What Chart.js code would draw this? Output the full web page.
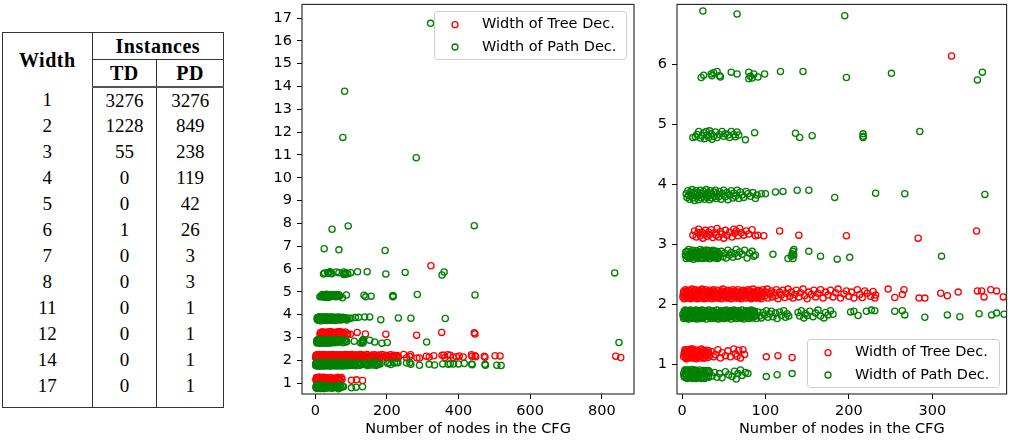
<!DOCTYPE html>
<html>
<head>
<meta charset="utf-8">
<script src="https://cdn.jsdelivr.net/npm/chart.js@4.4.0/dist/chart.umd.min.js"></script>
<style>
  html, body { margin: 0; padding: 0; background: #fff; }
  body { width: 1011px; height: 443px; position: relative; overflow: hidden; }
  #tbl { position: absolute; left: 2px; top: 32px; width: 222px; border-collapse: collapse;
         font-family: 'Liberation Serif', serif; color: #000; border: 1px solid #333; }
  #tbl th, #tbl td { padding: 0; text-align: center; }
  #tbl th { font-weight: bold; font-size: 20px; letter-spacing: 0.5px; height: 26px; }
  #tbl td { font-size: 19px; height: 26px; }
  #tbl .sep { border-right: 1px solid #333; }
  #tbl .under { border-bottom: 1px solid #333; }
  #tbl thead tr:last-child th { border-bottom: 2px solid #555; }
  #tbl tbody tr:first-child td { height: 25px; }
  #tbl tbody tr:last-child td { height: 34px; vertical-align: top; }
  #tbl tbody tr:last-child td span { display: block; line-height: 26px; }
  #c1 { position: absolute; left: 255px; top: 0; }
  #c2 { position: absolute; left: 640px; top: 0; }
</style>
</head>
<body>
<table id="tbl">
  <colgroup><col style="width:90px"><col style="width:65px"><col style="width:67px"></colgroup>
  <thead>
    <tr><th rowspan="2" class="sep">Width</th><th colspan="2" class="under">Instances</th></tr>
    <tr><th class="sep">TD</th><th>PD</th></tr>
  </thead>
  <tbody></tbody>
</table>
<canvas id="c1" width="385" height="443"></canvas>
<canvas id="c2" width="371" height="443"></canvas>
<script>
// table values
const widths = [1, 2, 3, 4, 5, 6, 7, 8, 11, 12, 14, 17];
const tdCount = [3276, 1228, 55, 0, 0, 1, 0, 0, 0, 0, 0, 0];
const pdCount = [3276, 849, 238, 119, 42, 26, 3, 3, 1, 1, 1, 1];

// scatter points [nodes, jittered width]
const tdW1 = [[2,1.12],[3,1.2],[4,1.15],[5,1.23],[5,1.09],[6,1.18],[7,1.13],[8,1.24],[8,1.1],[9,1.19],[10,1.14],[11,1.22],[12,1.1],[12,1.17],[13,1.25],[14,1.12],[15,1.2],[16,1.15],[17,1.09],[17,1.23],[18,1.18],[19,1.12],[20,1.21],[21,1.16],[22,1.1],[22,1.24],[23,1.19],[24,1.13],[25,1.22],[26,1.16],[27,1.1],[28,1.2],[29,1.14],[30,1.23],[31,1.11],[32,1.18],[33,1.14],
  [2.5,1.17],[3.5,1.24],[4.5,1.11],[6.5,1.21],[7.5,1.16],[9.5,1.11],[10.5,1.25],[13.5,1.15],[15.5,1.1],[18.5,1.22],[20.5,1.13],[23.5,1.25],[25.5,1.1],[27.5,1.2],[29.5,1.17],[31.5,1.22],
  [35,1.21],[38,1.12],[40,1.16],[43,1.24],[46,1.1],[48,1.19],[52,1.14],[55,1.22],[58,1.12],[62,1.25],[64,1.17],[66,1.13],[68,1.23],[70,1.1],[73,1.24],[75,1.16],[101,1.12],[115,1.14],[132,1.11]];
const tdW2 = [[1,2.12],[2,2.21],[2.5,2.09],[3,2.18],[4,2.24],[4.5,2.15],[5,2.11],[6,2.2],[6.5,2.1],[7,2.17],[8,2.23],[8.5,2.14],[9,2.12],[10,2.22],[10.5,2.09],[11,2.19],[12,2.25],[12.5,2.15],[13,2.11],[14,2.21],[14.5,2.1],[15,2.18],[16,2.24],[16.5,2.14],[17,2.12],[18,2.2],[18.5,2.09],[19,2.17],[20,2.23],[20.5,2.15],[21,2.11],[22,2.21],[22.5,2.1],[23,2.18],[24,2.25],[24.5,2.14],[25,2.12],[26,2.22],[26.5,2.09],[27,2.19],[28,2.24],[28.5,2.15],[29,2.11],[30,2.2],[31,2.1],[32,2.17],[33,2.23],[33.5,2.14],[34,2.12],[35,2.21],[36,2.09],[37,2.18],[38,2.24],[38.5,2.15],[39,2.11],[40,2.2],[41,2.1],[42,2.17],[43,2.23],[44,2.14],[45,2.12],[46,2.21],[47,2.09],[48,2.18],[49,2.25],[50,2.15],[51,2.11],[52,2.2],[53,2.1],[54,2.17],[55,2.23],[56,2.14],[57,2.12],[58,2.22],[59,2.09],[60,2.19],[61,2.24],[62,2.15],[63,2.11],[64,2.21],[65,2.1],[66,2.18],[67,2.24],[68,2.14],[69,2.12],[70,2.2],[71,2.09],[72,2.17],[73,2.23],[74,2.15],[75,2.11],[76,2.21],[77,2.1],[78,2.18],[79,2.24],[80,2.14],[81,2.12],[82,2.22],[83,2.09],[84,2.19],[85,2.25],[86,2.15],[87,2.11],[88,2.2],[89,2.1],[90,2.17],[91,2.23],[92,2.14],[93,2.12],[94,2.21],[95,2.09],[96,2.18],[97,2.24]];
const tdW2b = [[1.5,2.16],[3.5,2.13],[5.5,2.22],[7.5,2.19],[9.5,2.1],[11.5,2.16],[13.5,2.13],[15.5,2.22],[17.5,2.19],[19.5,2.1],[21.5,2.16],[23.5,2.13],[25.5,2.22],[27.5,2.19],[29.5,2.1],[31.5,2.16],[33.5,2.2],[35.5,2.13],[37.5,2.22],[39.5,2.16],[41.5,2.13],[43.5,2.1],[45.5,2.19],[47.5,2.22],[49.5,2.13],[51.5,2.16],[53.5,2.22],[55.5,2.1],[57.5,2.19],[59.5,2.13],[61.5,2.16],[63.5,2.22],[65.5,2.19],[67.5,2.1],[69.5,2.16],[71.5,2.22],[73.5,2.13],[75.5,2.19],[77.5,2.16],[79.5,2.22],[81.5,2.1],[83.5,2.13],[85.5,2.19],[87.5,2.16],[89.5,2.22],[91.5,2.1],[93.5,2.16],[95.5,2.13]];
const tdW2Tail = [[99,2.13],[100,2.2],[102,2.25],[103,2.1],[105,2.17],[107,2.22],[108,2.12],[110,2.19],[112,2.14],[113,2.24],[115,2.09],[117,2.2],[119,2.15],[121,2.23],[123,2.11],[125,2.18],[127,2.25],[129,2.13],[131,2.2],[133,2.1],[135,2.16],[137,2.23],[140,2.12],[142,2.19],[145,2.25],[147,2.14],[150,2.09],[152,2.2],[155,2.16],[158,2.23],[160,2.12],[163,2.18],[166,2.24],[169,2.1],[172,2.2],[175,2.15],[178,2.23],[181,2.12],[184,2.19],[187,2.25],[190,2.1],[194,2.17],[197,2.22],[200,2.13],[203,2.2],[206,2.1],[210,2.24],[213,2.16],[216,2.11],[219,2.22],[222,2.18],[226,2.13],[229,2.21],[231,2.1],[232,2.15],
  [247,2.25],[255,2.11],[264,2.16],[266,2.24],[284,2.1],[291,2.1],[310,2.18],[318,2.14],[331,2.2],[354,2.22],[359,2.22],[362,2.12],[370,2.24],[377,2.22],[385,2.12],[394,2.15],[402,2.19],[413,2.14],[436,2.24],[438,2.18],[446,2.2],[448,2.15],[472,2.18],[474,2.13],[502,2.2],[516,2.19],[839,2.18],[853,2.12]];
const tdW3 = [[13,3.15],[15,3.22],[17,3.12],[19,3.19],[20,3.25],[22,3.14],[24,3.2],[25,3.1],[27,3.17],[28,3.23],[30,3.13],[32,3.2],[33,3.16],[35,3.24],[37,3.11],[39,3.19],[41,3.15],[42,3.26],[44,3.12],[46,3.21],[48,3.17],[50,3.1],[52,3.23],[54,3.15],[57,3.2],[60,3.12],[62,3.25],[63,3.18],[65,3.22],[67,3.14],[69,3.26],[71,3.19],[74,3.15],[77,3.22],[80,3.17],[84,3.24],[88,3.14],[91,3.15],[98,3.14],[117,3.22],[140,3.15],[197,3.14],[283,3.1],[353,3.22],[444,3.2],[446,3.15]];
const tdW6 = [[323,6.14]];

const pdW1 = [[2,0.84],[3,0.78],[4,0.88],[5,0.8],[5,0.9],[6,0.76],[7,0.85],[8,0.79],[8,0.9],[9,0.83],[10,0.77],[11,0.87],[12,0.81],[12,0.91],[13,0.76],[14,0.86],[15,0.8],[16,0.89],[17,0.83],[17,0.76],[18,0.88],[19,0.79],[20,0.85],[21,0.9],[22,0.77],[23,0.83],[24,0.88],[25,0.79],[26,0.86],[27,0.76],[28,0.82],[29,0.89],[30,0.8],[31,0.85],[32,0.78],[33,0.87],
  [2.5,0.8],[3.5,0.9],[4.5,0.83],[6.5,0.88],[7.5,0.77],[9.5,0.87],[10.5,0.8],[13.5,0.83],[15.5,0.9],[18.5,0.77],[20.5,0.82],[23.5,0.76],[25.5,0.89],[27.5,0.84],[29.5,0.78],[31.5,0.89],
  [36,0.8],[39,0.86],[42,0.78],[45,0.84],[48,0.77],[52,0.87],[56,0.82],[60,0.79],[63,0.88],[65,0.75],[67,0.84],[70,0.9],[72,0.81],[76,0.86],[79,0.84],[101,0.79],[114,0.82],[132,0.84]];
const pdW2 = [[1,1.83],[2,1.76],[2.5,1.88],[3,1.8],[4,1.9],[4.5,1.77],[5,1.85],[6,1.79],[6.5,1.89],[7,1.82],[8,1.75],[8.5,1.87],[9,1.81],[10,1.9],[10.5,1.78],[11,1.84],[12,1.76],[12.5,1.88],[13,1.81],[14,1.89],[14.5,1.77],[15,1.85],[16,1.79],[16.5,1.9],[17,1.82],[18,1.75],[18.5,1.87],[19,1.81],[20,1.89],[20.5,1.78],[21,1.84],[22,1.76],[22.5,1.88],[23,1.8],[24,1.9],[24.5,1.77],[25,1.85],[26,1.79],[27,1.89],[28,1.82],[29,1.75],[30,1.87],[31,1.81],[32,1.9],[33,1.78],[34,1.84],[35,1.76],[36,1.88],[37,1.8],[38,1.89],[39,1.77],[40,1.85],[41,1.79],[42,1.9],[43,1.82],[44,1.75],[45,1.87],[46,1.81],[47,1.89],[48,1.78],[49,1.84],[50,1.76],[51,1.88],[52,1.8],[53,1.9],[54,1.77],[55,1.85],[56,1.79],[57,1.89],[58,1.82],[59,1.75],[60,1.87],[61,1.81],[62,1.9],[63,1.78],[64,1.84],[65,1.76],[66,1.88],[67,1.8],[68,1.89],[69,1.77],[70,1.85],[71,1.79],[72,1.9],[73,1.82],[74,1.75],[75,1.87],[76,1.81],[77,1.89],[78,1.78],[79,1.84],[80,1.76],[81,1.88],[82,1.8],[83,1.9],[84,1.77],[85,1.85],[86,1.79],[87,1.88],[88,1.82],[89,1.76]];
const pdW2b = [[1.5,1.79],[3.5,1.86],[5.5,1.76],[7.5,1.83],[9.5,1.88],[11.5,1.8],[13.5,1.86],[15.5,1.76],[17.5,1.83],[19.5,1.88],[21.5,1.8],[23.5,1.84],[25.5,1.77],[27.5,1.86],[29.5,1.8],[31.5,1.87],[33.5,1.82],[35.5,1.79],[37.5,1.86],[39.5,1.81],[41.5,1.76],[43.5,1.85],[45.5,1.8],[47.5,1.83],[49.5,1.88],[51.5,1.78],[53.5,1.84],[55.5,1.81],[57.5,1.87],[59.5,1.79],[61.5,1.84],[63.5,1.88],[65.5,1.8],[67.5,1.86],[69.5,1.82],[71.5,1.77],[73.5,1.86],[75.5,1.8],[77.5,1.84],[79.5,1.88],[81.5,1.79],[83.5,1.83],[85.5,1.88],[87.5,1.8]];
const pdW2Tail = [[91,1.87],[93,1.8],[95,1.77],[97,1.86],[99,1.82],[101,1.89],[103,1.78],[105,1.84],[107,1.88],[109,1.79],[112,1.85],[114,1.76],[117,1.87],[119,1.81],[122,1.89],[124,1.78],[126,1.84],[128,1.8],
  [139,1.86],[141,1.8],[143,1.89],[146,1.77],[148,1.84],[150,1.81],[153,1.88],[157,1.79],[160,1.85],[163,1.9],[166,1.8],[170,1.77],[172,1.86],[175,1.82],[178,1.89],[181,1.83],
  [202,1.87],[206,1.88],[211,1.81],[221,1.88],[227,1.9],[231,1.89],[255,1.88],[264,1.89],[267,1.82],[291,1.78],[318,1.82],[333,1.79],[356,1.84],[371,1.82],[377,1.85],[386,1.83],[400,1.84],[416,1.86],[437,1.84],[438,1.8],[474,1.82],[475,1.78],[507,1.78],[519,1.77]];
const pdW3 = [[4,2.82],[5,2.76],[6,2.88],[7,2.79],[8,2.91],[9,2.84],[10,2.77],[11,2.87],[12,2.8],[13,2.9],[14,2.75],[15,2.85],[16,2.78],[17,2.89],[18,2.82],[19,2.76],[20,2.87],[21,2.81],[22,2.91],[23,2.78],[24,2.84],[25,2.76],[26,2.88],[27,2.8],[28,2.9],[29,2.77],[30,2.85],[31,2.79],[32,2.89],[33,2.82],[34,2.76],[35,2.87],[36,2.81],[37,2.9],[38,2.78],[39,2.84],[40,2.77],[41,2.88],[42,2.8],[43,2.86],[44,2.78],[45,2.83],
  [4.5,2.87],[6.5,2.8],[8.5,2.77],[10.5,2.83],[12.5,2.86],[14.5,2.81],[16.5,2.86],[18.5,2.79],[20.5,2.84],[22.5,2.77],[24.5,2.89],[26.5,2.83],[28.5,2.8],[30.5,2.9],[32.5,2.76],[34.5,2.84],[36.5,2.78],[38.5,2.88],[40.5,2.82],[42.5,2.76],
  [47,2.88],[49,2.79],[51,2.85],[53,2.77],[55,2.9],[57,2.82],[59,2.86],[61,2.78],[63,2.84],[65,2.91],[67,2.8],[69,2.87],[72,2.83],[75,2.9],[78,2.77],[81,2.85],[84,2.88],[86,2.8],[88,2.82],
  [109,2.83],[127,2.76],[131,2.8],[132,2.84],[133,2.88],[133,2.76],[134,2.91],[134,2.82],[152,2.88],[166,2.8],[186,2.75],[201,2.78],[311,2.8],[848,2.78]];
const pdW4 = [[5,3.84],[6,3.78],[7,3.89],[8,3.81],[9,3.75],[10,3.87],[11,3.8],[12,3.91],[13,3.77],[14,3.85],[15,3.73],[16,3.83],[17,3.89],[18,3.79],[19,3.86],[20,3.74],[21,3.82],[22,3.9],[23,3.77],[24,3.85],[25,3.8],[26,3.88],[27,3.75],[28,3.83],[29,3.91],[30,3.78],[31,3.86],[32,3.81],[33,3.74],[34,3.89],[35,3.83],[36,3.77],[38,3.87],[39,3.8],[40,3.9],[41,3.76],[42,3.84],[44,3.79],[45,3.88],
  [47,3.75],[48,3.84],[50,3.9],[52,3.79],[54,3.86],[55,3.74],[57,3.82],[59,3.89],[61,3.77],[62,3.85],[64,3.8],[66,3.9],[68,3.76],[70,3.87],[72,3.82],[74,3.78],[77,3.88],[79,3.84],[82,3.8],[85,3.86],[88,3.76],[90,3.82],[95,3.84],
  [100,3.84],[112,3.87],[121,3.88],[138,3.9],[152,3.9],[183,3.78],[232,3.85],[267,3.84],[363,3.83]];
const pdW5 = [[13,4.78],[16,4.79],[18,4.83],[20,4.88],[22,4.77],[24,4.81],[26,4.86],[27,4.76],[29,4.88],[30,4.82],[32,4.78],[33,4.89],[35,4.84],[36,4.75],[38,4.8],[40,4.87],[42,4.78],[45,4.83],[48,4.88],[50,4.8],[52,4.84],[55,4.82],[57,4.78],[59,4.88],[62,4.83],[64,4.79],[66,4.87],[68,4.82],[76,4.74],[87,4.86],[136,4.85],[141,4.78],[156,4.81],[217,4.84],[217,4.8],[217,4.78],[285,4.88],[446,4.86]];
const pdW6 = [[23,5.78],[26,5.82],[35,5.84],[36,5.81],[38,5.86],[42,5.88],[45,5.81],[46,5.79],[59,5.87],[66,5.84],[80,5.87],[80,5.76],[82,5.8],[84,5.77],[86,5.84],[91,5.79],[99,5.84],[118,5.88],[145,5.88],[197,5.78],[251,5.85],[354,5.74],[360,5.87],[836,5.83]];
const pdHigh = [[25,6.89],[66,6.84],[195,6.81],[47,7.74],[92,7.89],[444,7.9],[282,10.88],[77,11.77],[82,13.79],[322,16.77]];

// axis ticks
const xTicksAll = [0, 200, 400, 600, 800];
const yTicksAll = [1, 2, 3, 4, 5, 6, 7, 8, 9, 10, 11, 12, 13, 14, 15, 16, 17];
const xTicksZoom = [0, 100, 200, 300];
const yTicksZoom = [1, 2, 3, 4, 5, 6];

// build the table
const tbody = document.querySelector('#tbl tbody');
widths.forEach((w, i) => {
  const tr = document.createElement('tr');
  tr.innerHTML = '<td class="sep"><span>' + w + '</span></td><td class="sep"><span>' + tdCount[i] +
    '</span></td><td><span>' + pdCount[i] + '</span></td>';
  tbody.appendChild(tr);
});

const toXY = pts => pts.map(p => ({ x: p[0], y: p[1] }));
const treeDec = toXY([...tdW1, ...tdW2, ...tdW2b, ...tdW2Tail, ...tdW3, ...tdW6]);
const pathDec = toXY([...pdW1, ...pdW2, ...pdW2b, ...pdW2Tail, ...pdW3, ...pdW4, ...pdW5, ...pdW6, ...pdHigh]);

Chart.defaults.font.family = "'DejaVu Sans', sans-serif";
Chart.defaults.font.size = 14.5;
Chart.defaults.color = '#000';

// matplotlib-like box around the axes
const frame = {
  id: 'frame',
  afterDatasetsDraw(chart) {
    const { ctx, chartArea: a } = chart;
    ctx.save();
    ctx.strokeStyle = '#222';
    ctx.lineWidth = 1.1;
    ctx.strokeRect(a.left, a.top, a.right - a.left, a.bottom - a.top);
    ctx.restore();
  }
};

// legend box drawn inside the axes
const legendBox = {
  id: 'legendBox',
  afterDraw(chart, args, opts) {
    const { ctx, chartArea: a } = chart;
    const w = 192, h = 48;
    const x = Math.round(a.right - 8 - w);
    const y = opts.corner === 'bottom' ? Math.round(a.bottom - 7 - h) : Math.round(a.top + 7);
    ctx.save();
    ctx.beginPath();
    ctx.roundRect(x + 0.5, y + 0.5, w, h, 3);
    ctx.fillStyle = 'rgba(255,255,255,0.8)';
    ctx.fill();
    ctx.strokeStyle = '#cccccc';
    ctx.lineWidth = 1;
    ctx.stroke();
    ctx.font = "14.5px 'DejaVu Sans'";
    ctx.textBaseline = 'middle';
    chart.data.datasets.forEach((ds, i) => {
      const cy = y + 13.7 + i * 22.3;
      ctx.beginPath();
      ctx.arc(x + 21, cy, 3, 0, Math.PI * 2);
      ctx.strokeStyle = ds.borderColor;
      ctx.lineWidth = 1.3;
      ctx.stroke();
      ctx.fillStyle = '#000';
      ctx.fillText(ds.label, x + 48, cy);
    });
    ctx.restore();
  }
};

function noPad(s) {
  s.paddingTop = 0; s.paddingBottom = 0; s.paddingLeft = 0; s.paddingRight = 0;
}

function makeChart(id, xr, xTicks, yr, yTicks, yWidth, padRight, corner) {
  return new Chart(document.getElementById(id), {
    type: 'scatter',
    data: {
      datasets: [
        { label: 'Width of Tree Dec.', data: treeDec, borderColor: '#ff0000', backgroundColor: 'rgba(0,0,0,0)', order: 1 },
        { label: 'Width of Path Dec.', data: pathDec, borderColor: '#008000', backgroundColor: 'rgba(0,0,0,0)', order: 0 }
      ]
    },
    options: {
      responsive: false,
      animation: false,
      devicePixelRatio: 1,
      events: [],
      elements: { point: { radius: 3.1, borderWidth: 1.3, hoverRadius: 3.1 } },
      layout: { padding: { top: 2, right: padRight, left: 0, bottom: 0 } },
      scales: {
        x: {
          type: 'linear', min: xr[0], max: xr[1],
          afterBuildTicks: s => { s.ticks = xTicks.map(v => ({ value: v })); },
          afterFit: s => { s.height = 49; noPad(s); },
          border: { display: false },
          grid: { drawOnChartArea: false, drawTicks: true, tickLength: 5, tickColor: '#000', tickWidth: 1 },
          ticks: { padding: 4, maxRotation: 0, autoSkip: false },
          title: { display: true, text: 'Number of nodes in the CFG', padding: { top: 2, bottom: 5 } }
        },
        y: {
          type: 'linear', min: yr[0], max: yr[1],
          afterBuildTicks: s => { s.ticks = yTicks.map(v => ({ value: v })); },
          afterFit: s => { s.width = yWidth; noPad(s); },
          border: { display: false },
          grid: { drawOnChartArea: false, drawTicks: true, tickLength: 5, tickColor: '#000', tickWidth: 1 },
          ticks: { padding: 5, autoSkip: false }
        }
      },
      plugins: {
        legend: { display: false },
        tooltip: { enabled: false },
        legendBox: { corner: corner }
      }
    },
    plugins: [frame, legendBox]
  });
}

makeChart('c1', [-37, 890], xTicksAll, [0.52, 17.6], yTicksAll, 47, 6, 'top');
makeChart('c2', [-6, 389], xTicksZoom, [0.5, 7.0], yTicksZoom, 37, 2, 'bottom');
</script>
</body>
</html>
